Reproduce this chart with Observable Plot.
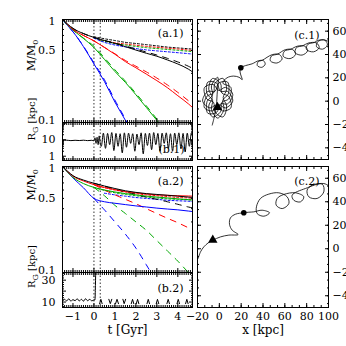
<!DOCTYPE html>
<html>
<head>
<meta charset="utf-8">
<script src="https://cdn.jsdelivr.net/npm/d3@7"></script>
<script src="https://cdn.jsdelivr.net/npm/@observablehq/plot@0.6"></script>
<style>
html, body { margin: 0; padding: 0; background: #fff; }
#fig { position: relative; width: 346px; height: 346px; overflow: hidden; background: #fff; }
</style>
</head>
<body>
<div id="fig"></div>
<script>
// ================= DATA =================
const tGrid = [-1.5, -1.25, -1.0, -0.5, 0, 0.5, 1.0, 1.5, 2.0, 2.5, 3.0, 3.5, 4.0, 4.5, 4.75];
const epochs = [0, 0.3];

// panel (a.1): M/M0
const a1BlackSolid  = [1.0, 0.9, 0.82, 0.73, 0.67, 0.625, 0.585, 0.545, 0.505, 0.47, 0.44, 0.405, 0.37, 0.33, 0.305];
const a1BlackDashed = [1.0, 0.9, 0.82, 0.73, 0.67, 0.627, 0.59, 0.553, 0.517, 0.483, 0.452, 0.42, 0.387, 0.352, 0.332];
const a1RedSolid    = [1.0, 0.89, 0.8, 0.7, 0.62, 0.535, 0.46, 0.39, 0.34, 0.295, 0.255, 0.218, 0.182, 0.152, 0.137];
const a1RedDashed   = [1.0, 0.89, 0.8, 0.7, 0.62, 0.537, 0.465, 0.4, 0.352, 0.31, 0.27, 0.232, 0.196, 0.163, 0.148];
const a1GreenSolid  = [1.0, 0.88, 0.79, 0.655, 0.535, 0.41, 0.313, 0.245, 0.186, 0.14, 0.105, 0.078, NaN, NaN, NaN];
const a1GreenDashed = [1.0, 0.88, 0.79, 0.66, 0.55, 0.425, 0.325, 0.252, 0.192, 0.145, 0.108, 0.08, NaN, NaN, NaN];
const a1BlueSolid   = [1.0, 0.87, 0.76, 0.545, 0.37, 0.25, 0.158, 0.105, 0.068, NaN, NaN, NaN, NaN, NaN, NaN];
const a1BlueDashed  = [1.0, 0.87, 0.76, 0.55, 0.38, 0.26, 0.165, 0.108, 0.07, NaN, NaN, NaN, NaN, NaN, NaN];
const a1BlackDotted = [NaN, NaN, NaN, NaN, 0.68, 0.65, 0.625, 0.6, 0.585, 0.57, 0.555, 0.54, 0.53, 0.52, 0.515];
const a1RedDotted   = [NaN, NaN, NaN, NaN, 0.66, 0.62, 0.595, 0.578, 0.563, 0.548, 0.537, 0.527, 0.517, 0.505, 0.5];
const a1GreenDotted = [NaN, NaN, NaN, NaN, 0.66, 0.615, 0.585, 0.565, 0.548, 0.533, 0.522, 0.512, 0.502, 0.492, 0.487];
const a1BlueDotted  = [NaN, NaN, NaN, NaN, 0.66, 0.6, 0.565, 0.542, 0.522, 0.507, 0.496, 0.486, 0.476, 0.466, 0.46];

// panel (a.2): M/M0
const a2BlackSolid  = [1.0, 0.9, 0.82, 0.745, 0.695, 0.655, 0.62, 0.59, 0.57, 0.555, 0.545, 0.535, 0.525, 0.515, 0.51];
const a2BlackDashed = [NaN, NaN, NaN, NaN, 0.695, 0.65, 0.61, 0.575, 0.545, 0.515, 0.49, 0.465, 0.44, 0.415, 0.405];
const a2RedSolid    = [1.0, 0.89, 0.81, 0.73, 0.675, 0.635, 0.605, 0.58, 0.565, 0.55, 0.54, 0.535, 0.53, 0.527, 0.525];
const a2RedDashed   = [NaN, NaN, NaN, NaN, 0.675, 0.6, 0.54, 0.49, 0.445, 0.4, 0.36, 0.325, 0.295, 0.265, 0.255];
const a2GreenSolid  = [1.0, 0.88, 0.79, 0.69, 0.635, 0.6, 0.575, 0.555, 0.54, 0.525, 0.515, 0.505, 0.495, 0.487, 0.483];
const a2GreenDashed = [NaN, NaN, NaN, NaN, 0.635, 0.53, 0.43, 0.36, 0.3, 0.25, 0.2, 0.16, 0.128, 0.1, 0.088];
const a2BlueSolid   = [1.0, 0.88, 0.78, 0.63, 0.5, 0.465, 0.45, 0.437, 0.425, 0.415, 0.405, 0.397, 0.39, 0.38, 0.375];
const a2BlueDashed  = [NaN, NaN, NaN, NaN, 0.5, 0.39, 0.3, 0.23, 0.17, 0.118, 0.08, NaN, NaN, NaN, NaN];
const a2RedDotted   = [NaN, NaN, NaN, NaN, 0.675, 0.63, 0.6, 0.575, 0.555, 0.54, 0.53, 0.52, 0.51, 0.505, 0.5];
const a2GreenDotted = [NaN, NaN, NaN, NaN, 0.635, 0.595, 0.565, 0.545, 0.53, 0.515, 0.505, 0.495, 0.49, 0.485, 0.48];
const a2BlueDotted  = [NaN, NaN, NaN, NaN, NaN, 0.56, 0.54, 0.525, 0.51, 0.5, 0.49, 0.48, 0.475, 0.47, 0.465];

// panel (b.1): R_G [kpc]
const b1T = [-1.5, -1.3, -1.1, -0.9, -0.7, -0.5, -0.3, -0.1, 0.0, 0.05, 0.1, 0.15, 0.2, 0.25, 0.3,
  0.35, 0.45, 0.55, 0.65, 0.75, 0.85, 0.95, 1.05, 1.15, 1.25, 1.35, 1.45, 1.55, 1.65, 1.75, 1.85, 1.95,
  2.05, 2.15, 2.25, 2.35, 2.45, 2.55, 2.65, 2.75, 2.85, 2.95, 3.05, 3.15, 3.25, 3.35, 3.45, 3.55, 3.65,
  3.75, 3.85, 3.95, 4.05, 4.15, 4.25, 4.35, 4.45, 4.55, 4.65, 4.75];
const b1R = [9, 9.3, 8.8, 9.2, 8.9, 9.3, 8.8, 9.2, 8.5, 13, 6, 14, 5, 17, 6,
  4, 25, 3, 24, 5, 27, 2.2, 24, 4, 23, 1.6, 26, 3.5, 25, 6, 23, 2,
  22, 5, 26, 1.4, 24, 4.5, 25, 2.5, 27, 5, 24, 2, 25, 6, 26, 3, 23,
  2, 25, 5, 26, 2.8, 24, 1.8, 25, 4, 27, 6];

// panel (b.2): R_G [kpc]
const b2T = [-1.5, -1.4, -1.3, -1.2, -1.1, -1.0, -0.9, -0.8, -0.7, -0.6, -0.5, -0.4, -0.3, -0.2, -0.1, 0.0, 0.05, 0.07, 0.09];
const b2R = [11, 12.5, 11, 13, 10.8, 12.2, 11.2, 13, 11, 12.5, 10.8, 13, 11.2, 12.5, 11, 12, 12, 25, 45];
const b2LateT = [0.27, 0.33, 0.39, NaN, 0.71, 0.78, 0.85, NaN, 1.03, 1.10, 1.17, NaN, 1.38, 1.44, 1.51, NaN,
  1.78, 1.84, 1.90, NaN, 2.02, 2.08, 2.14, NaN, 2.53, 2.59, 2.65, NaN, 2.97, 3.03, 3.09, NaN,
  3.48, 3.54, 3.60, NaN, 3.96, 4.02, 4.08, NaN, 4.37, 4.43, 4.49];
const b2LateR = [8.5, 12.5, 8.5, NaN, 12.5, 8.5, 12.5, NaN, 8.5, 12.5, 8.5, NaN, 12.5, 8.5, 12.5, NaN,
  8.5, 12.5, 8.5, NaN, 8.5, 12.5, 8.5, NaN, 8.5, 12.5, 8.5, NaN, 8.5, 12.5, 8.5, NaN,
  8.5, 12.5, 8.5, NaN, 8.5, 12.5, 8.5, NaN, 8.5, 12.5, 8.5];

// panel (c.1): orbit x,y [kpc]
const c1X = [-6.5, -5, -3, -2,
  -1.5, -7.2, -6.2, -11.2, -10.5, -2.4, 1.0, 7.6, 12.3, 5.6, -0.6, -5.7, -13.6, -11.5, -5.3, -4.1, 3.3, 6.7, 3.5, 6.7,
  3.3, -4.1, -5.3, -11.5, -13.6, -5.7, -0.6, 5.6, 12.3, 7.6, 1.0, -2.4, -10.5, -11.2, -6.2, -7.2, -1.5, 4.2, 3.2, 8.2, 7.5,
  -0.6, -4.0, -10.6, -15.3, -8.6, -2.4, 2.7, 10.6, 8.5, 2.3, 1.1, -6.3, -9.7, -6.5, -9.7, -6.3, 1.1, 2.3, 8.5, 10.6, 3.2,
  7, 13, 18, 21, 20, 19, 19.7,
  24, 30,
  36, 40.4, 42, 38.8, 34.8, 35.6, 39.2,
  48.5, 55.1, 57.5, 52.7, 46.7, 47.9, 53.3,
  60.4, 67.3, 69.8, 64.8, 58.5, 59.7, 65.4,
  71.4, 78.3, 80.8, 75.8, 69.5, 70.7, 76.4,
  81.8, 88.9, 91.5, 86.3, 79.8, 81.1, 87,
  90.8, 96.8, 99, 94.6, 89.1, 90.2, 95.2,
  100.5];
const c1Y = [-20.5, -15, -6, 6,
  20.5, 13.2, 5.1, -0.2, -10.4, -9.5, -2.4, -2.3, 6.0, 11.8, 9.2, 14.3, 11.75, 1.9, -1.0, -9.1, -13.5, -4.2, 3, 10.2,
  19.5, 15.1, 7.0, 4.1, -5.75, -8.3, -3.2, -5.8, 0.0, 8.3, 8.4, 15.5, 16.4, 6.2, 0.9, -7.2, -14.5, -7.2, 0.9, 6.2, 16.4,
  15.45, 8.4, 8.3, 0.0, -5.8, -3.2, -8.3, -5.75, 4.1, 7.0, 15.1, 19.45, 10.2, 3, -4.2, -13.45, -9.1, -1.0, 1.9, 11.75, 15.5,
  20, 21.5, 20.5, 18.5, 21.5, 25, 28.6,
  30.5, 32,
  34.7, 34.7, 31.7, 29, 30.5, 33.8, 35,
  39.9, 39.9, 36.1, 32.7, 34.6, 38.8, 40.3,
  44.1, 44.1, 40.1, 36.5, 38.5, 42.9, 44.5,
  47.1, 47.1, 43.1, 39.5, 41.5, 45.9, 47.5,
  49.9, 49.9, 45.9, 42.3, 44.3, 48.7, 50.3,
  52.2, 52.2, 48.2, 44.6, 46.6, 51, 52.6,
  51];
const c1TriX = [-1.7], c1TriY = [-5.2];
const c1DotX = [19.7], c1DotY = [28.6];

// panel (c.2): orbit x,y [kpc]
const c2X = [-19.5, -17.2, -14.2, -10.2, -6.0, 1.1, 8.7, 17.2, 11.8, 9.3, 10.2, 14.8, 22.4, 27.0, 31.6, 39.2, 46.0, 40.8, 34.6, 34.0,
  37.7, 45.3, 54.5, 62.1, 63.7, 57.6, 52.1, 53.0, 59.1, 69.8, 77.4, 74.3, 68.2, 66.7, 78.9, 94.2, 95.7, 89.6, 82.0, 80.4, 85.0, 95.7, 99.4];
const c2Y = [-8.3, -2.6, 1.6, 5.0, 7.3, 10.1, 11.6, 12.1, 15.8, 20.9, 26.3, 29.4, 30.6, 31.1, 31.4, 32.8, 30.6, 27.7, 30.0, 35.7,
  42.8, 46.5, 47.6, 44.2, 38.5, 34.2, 37.1, 42.8, 46.2, 47.6, 44.2, 39.9, 41.3, 45.6, 51.3, 55.0, 48.4, 42.8, 44.2, 49.9, 54.1, 55.5, 54.1];
const c2TriX = [-6.0], c2TriY = [7.5];
const c2DotX = [22.4], c2DotY = [30.6];

// tick values
const tMajor = [-1, 0, 1, 2, 3, 4];
const tMinor = d3.range(-15, 48).map(i => i / 10);
const mMajor = [0.1, 1];
const mMinor = [0.2, 0.3, 0.4, 0.5, 0.6, 0.7, 0.8, 0.9];
const r1Major = [1, 10, 100];
const r1Minor = [0.6, 0.7, 0.8, 0.9, 2, 3, 4, 5, 6, 7, 8, 9, 20, 30, 40, 50, 60, 70, 80, 90];
const r1Labels = [1, 10];
const r2Major = [10, 20, 30];
const r2Minor = [6, 8, 12, 14, 16, 18, 22, 24, 26, 28, 32, 34, 36];
const r2Labels = [10, 30];
const kMajorX = [-20, 0, 20, 40, 60, 80, 100];
const kMajorY = [-40, -20, 0, 20, 40, 60];
const kMinorX = d3.range(-20, 100.01, 20 / 3);
const kMinorY = d3.range(-60, 70.01, 20 / 3).filter(v => v >= -50);

// ================= HELPERS =================
const RED = "#ff0000", GREEN = "#00a800", BLUE = "#0000ff", BLACK = "#000000";
const FONT = "'DejaVu Serif', serif";
const fmt = d => (d < 0 ? "\u2212" + Math.abs(d) : String(d));
const blank = () => "";
const tDomain = [-1.5, 4.7];

function frameTicks(xMaj, xMin, yMaj, yMin, maj = 4, min = 2) {
  const m = [];
  for (const anchor of ["top", "bottom"]) {
    m.push(Plot.axisX({anchor, ticks: xMin, tickSize: -min, tickFormat: blank, label: null}));
    m.push(Plot.axisX({anchor, ticks: xMaj, tickSize: -maj, tickFormat: blank, label: null}));
  }
  for (const anchor of ["left", "right"]) {
    m.push(Plot.axisY({anchor, ticks: yMin, tickSize: -min, tickFormat: blank, label: null}));
    m.push(Plot.axisY({anchor, ticks: yMaj, tickSize: -maj, tickFormat: blank, label: null}));
  }
  return m;
}
function massLabels() {
  return [
    Plot.axisY({anchor: "left", ticks: [0.1], tickSize: 0, tickPadding: 7, dy: -2, tickFormat: fmt, label: null}),
    Plot.axisY({anchor: "left", ticks: [0.5], tickSize: 0, tickPadding: 7, tickFormat: fmt, label: null}),
    Plot.axisY({anchor: "left", ticks: [1], tickSize: 0, tickPadding: 7, dy: 2, tickFormat: fmt, label: null})
  ];
}
function ln(vals, stroke, dash, xs = tGrid, curve = "monotone-x") {
  return Plot.line(vals, {x: xs, y: vals, stroke, strokeWidth: 1, strokeDasharray: dash, curve, clip: true});
}
function label(str, frameAnchor, dx, dy, extra = {}) {
  return Plot.text([str], {text: d => d, frameAnchor, dx, dy, fontSize: 11, fill: "black", ...extra});
}
const DOT = "2,2", DASH = "6,6";
const rules = () => Plot.ruleX(epochs, {x: d => d, stroke: "black", strokeWidth: 0.8, strokeDasharray: "1.5,2"});

const fig = document.getElementById("fig");
function fixSub(svg) {
  svg.querySelectorAll("text").forEach(t => {
    if (t.textContent === "M/M_0") t.innerHTML = 'M/M<tspan dy="3" font-size="8">0</tspan>';
    else if (t.textContent === "R_G [kpc]") t.innerHTML = 'R<tspan dy="3" font-size="8">G</tspan><tspan dy="-3"> [kpc]</tspan>';
  });
}
function place(opts, left, top) {
  const svg = Plot.plot({...opts, style: {fontFamily: FONT, fontSize: "11px", background: "transparent", overflow: "visible", color: "black"}});
  fixSub(svg);
  svg.style.position = "absolute";
  svg.style.left = left + "px";
  svg.style.top = top + "px";
  svg.style.maxWidth = "none";
  svg.style.overflow = "visible";
  fig.appendChild(svg);
}

// ================= PANELS =================
// (a.1)
place({
  width: 196, height: 122, marginLeft: 62, marginRight: 4, marginTop: 19, marginBottom: 0,
  x: {domain: tDomain}, y: {type: "log", domain: [0.1, 1]},
  marks: [
    rules(),
    ln(a1BlackDotted, BLACK, DOT), ln(a1RedDotted, RED, DOT), ln(a1GreenDotted, GREEN, DOT), ln(a1BlueDotted, BLUE, DOT),
    ln(a1BlueDashed, BLUE, DASH), ln(a1GreenDashed, GREEN, DASH), ln(a1RedDashed, RED, DASH), ln(a1BlackDashed, BLACK, DASH),
    ln(a1BlueSolid, BLUE), ln(a1GreenSolid, GREEN), ln(a1RedSolid, RED), ln(a1BlackSolid, BLACK),
    Plot.frame({stroke: "black"}),
    ...frameTicks(tMajor, tMinor, mMajor, mMinor),
    ...massLabels(),
    label("M/M_0", "left", -31, 0, {rotate: -90}),
    label("(a.1)", "top-right", -9, 10, {textAnchor: "end"})
  ]
}, 0, 0);

// (b.1)
place({
  width: 196, height: 38, marginLeft: 62, marginRight: 4, marginTop: 0, marginBottom: 0,
  x: {domain: tDomain}, y: {type: "log", domain: [0.55, 110]},
  marks: [
    rules(),
    ln(b1R, BLACK, undefined, b1T),
    Plot.frame({stroke: "black"}),
    ...frameTicks(tMajor, tMinor, r1Major, r1Minor),
    Plot.axisY({anchor: "left", ticks: r1Labels, tickSize: 0, tickPadding: 7, tickFormat: fmt, label: null}),
    label("R_G [kpc]", "left", -31, -1, {rotate: -90, fontSize: 10}),
    label("(b.1)", "bottom-right", -8, -8, {textAnchor: "end"})
  ]
}, 0, 122);

// (a.2)
place({
  width: 196, height: 122, marginLeft: 62, marginRight: 4, marginTop: 16, marginBottom: 0,
  x: {domain: tDomain}, y: {type: "log", domain: [0.1, 1]},
  marks: [
    rules(),
    ln(a2RedDotted, RED, DOT), ln(a2GreenDotted, GREEN, DOT), ln(a2BlueDotted, BLUE, DOT),
    ln(a2BlueDashed, BLUE, DASH), ln(a2GreenDashed, GREEN, DASH), ln(a2RedDashed, RED, DASH), ln(a2BlackDashed, BLACK, DASH),
    ln(a2BlueSolid, BLUE), ln(a2GreenSolid, GREEN), ln(a2RedSolid, RED), ln(a2BlackSolid, BLACK),
    Plot.frame({stroke: "black"}),
    ...frameTicks(tMajor, tMinor, mMajor, mMinor),
    ...massLabels(),
    label("M/M_0", "left", -31, -19, {rotate: -90}),
    label("(a.2)", "top-right", -9, 11, {textAnchor: "end"})
  ]
}, 0, 150);

// (b.2)
place({
  width: 196, height: 74, marginLeft: 62, marginRight: 4, marginTop: 0, marginBottom: 39,
  x: {domain: tDomain}, y: {domain: [5, 37]},
  marks: [
    rules(),
    ln(b2R, BLACK, undefined, b2T),
    ln(b2LateR, BLACK, undefined, b2LateT, "linear"),
    Plot.frame({stroke: "black"}),
    ...frameTicks(tMajor, tMinor, r2Major, r2Minor),
    Plot.axisY({anchor: "left", ticks: r2Labels, tickSize: 0, tickPadding: 7, tickFormat: fmt, label: null}),
    Plot.axisX({anchor: "bottom", ticks: tMajor, tickSize: 0, tickPadding: 5, tickFormat: fmt, label: null}),
    label("R_G [kpc]", "left", -31, -2, {rotate: -90, fontSize: 10}),
    label("t [Gyr]", "bottom", 0, 26, {fontSize: 12}),
    label("(b.2)", "top-right", -9, 12, {textAnchor: "end"})
  ]
}, 0, 272);

// (c.1)
place({
  width: 153, height: 159, marginLeft: 4, marginRight: 18, marginTop: 19, marginBottom: 0,
  x: {domain: [-20, 100]}, y: {domain: [-50, 70]},
  marks: [
    Plot.line(c1X, {x: c1X, y: c1Y, stroke: "black", strokeWidth: 0.8, curve: "catmull-rom", clip: true}),
    Plot.dot(c1TriX, {x: c1TriX, y: c1TriY, symbol: "triangle", r: 3.5, fill: "black"}),
    Plot.dot(c1DotX, {x: c1DotX, y: c1DotY, symbol: "circle", r: 2.8, fill: "black"}),
    Plot.frame({stroke: "black"}),
    ...frameTicks(kMajorX, kMinorX, kMajorY, kMinorY),
    Plot.axisY({anchor: "right", ticks: kMajorY, tickSize: 0, tickPadding: 4, tickFormat: fmt, label: null}),
    label("(c.1)", "top-right", -9, 12, {textAnchor: "end"})
  ]
}, 193, 0);

// (c.2)
place({
  width: 153, height: 196, marginLeft: 4, marginRight: 18, marginTop: 16, marginBottom: 39,
  x: {domain: [-20, 100]}, y: {domain: [-50, 70]},
  marks: [
    Plot.line(c2X, {x: c2X, y: c2Y, stroke: "black", strokeWidth: 0.8, curve: "catmull-rom", clip: true}),
    Plot.dot(c2TriX, {x: c2TriX, y: c2TriY, symbol: "triangle", r: 3.5, fill: "black"}),
    Plot.dot(c2DotX, {x: c2DotX, y: c2DotY, symbol: "circle", r: 2.8, fill: "black"}),
    Plot.frame({stroke: "black"}),
    ...frameTicks(kMajorX, kMinorX, kMajorY, kMinorY),
    Plot.axisY({anchor: "right", ticks: kMajorY, tickSize: 0, tickPadding: 4, tickFormat: fmt, label: null}),
    Plot.axisX({anchor: "bottom", ticks: kMajorX, tickSize: 0, tickPadding: 5, tickFormat: fmt, label: null}),
    label("x [kpc]", "bottom", 0, 26, {fontSize: 12}),
    label("(c.2)", "top-right", -9, 11, {textAnchor: "end"})
  ]
}, 193, 150);
</script>
</body>
</html>
